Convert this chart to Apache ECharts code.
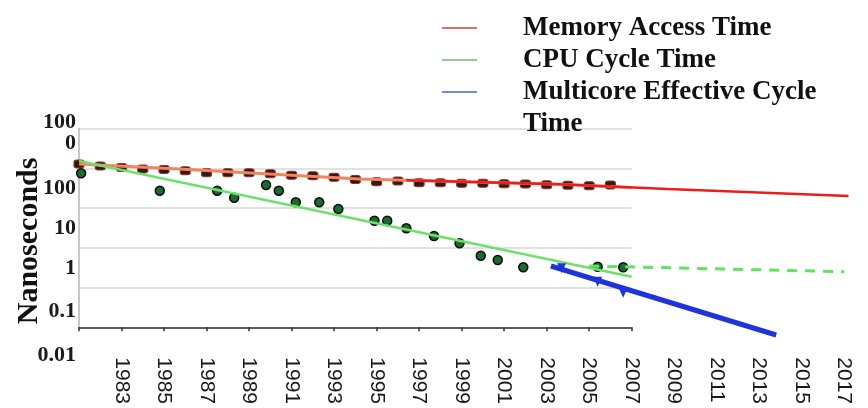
<!DOCTYPE html>
<html><head><meta charset="utf-8">
<script src="https://cdn.jsdelivr.net/npm/echarts@6/dist/echarts.min.js"></script>
<style>html,body{margin:0;padding:0;background:#fff}#c{width:868px;height:408px}</style>
</head><body><div id="c"></div>
<script>
// ---- data ----
const memYears = [1981,1982,1983,1984,1985,1986,1987,1988,1989,1990,1991,1992,1993,1994,1995,1996,1997,1998,1999,2000,2001,2002,2003,2004,2005,2006];
const memValues = [128,114,104.5,95.8,93.1,86.9,77.3,77.3,77.3,73,66.5,65,59.3,52.1,45.9,47.8,43.3,43.3,41.9,41.9,40.9,40.2,38.6,37.3,36.4,37.9];
const cpuYears = [1981.1,1984.8,1987.5,1988.3,1989.8,1990.4,1991.2,1992.3,1993.2,1994.9,1995.5,1996.4,1997.7,1998.9,1999.9,2000.7,2001.9,2005.4,2006.6];
const cpuValues = [74.7,27.3,27.3,18.2,37.9,27.3,13.9,13.9,9.45,4.8,4.8,3.09,1.98,1.3,0.632,0.493,0.323,0.334,0.323];
const multiYears = [2003.7,2005.4,2006.6];
const multiValues = [0.305,0.14,0.0742];
const memTrendYears = [1981,1985.7,1994.2,2003.6,2007];
const memTrendValues = [128,95.8,53.7,39.5,33];
const memProjYears = [1996.4,2003.6,2008.7,2017.2];
const memProjValues = [50.1,39.5,30.1,20];
const cpuTrendYears = [1981,2007];
const cpuTrendValues = [152,0.187];
const cpuProjYears = [2005,2017];
const cpuProjValues = [0.348,0.25];
const multiTrendYears = [2003.2,2013.8];
const multiTrendValues = [0.348,0.0064];
const yTickValues = [0.01,0.1,1,10,100,1000];
const yTickLabels = ['0.01','0.1','1','10','100','1000'];
const xLabelYears = [1983,1985,1987,1989,1991,1993,1995,1997,1999,2001,2003,2005,2007,2009,2011,2013,2015,2017];

const zip = (xs, ys) => xs.map((x, i) => [x, ys[i]]);
const serif = 'Liberation Serif';
const yLabelOffsetStyle = {'0.01':'p56','0.1':'p48','1':'p42','10':'p40','100':'p40'};

const chart = echarts.init(document.getElementById('c'));
const lblBase = {fontFamily: serif, fontWeight: 'bold', fontSize: 22, color: '#1a1a1a'};
const legendText = {fontFamily: serif, fontWeight: 'bold', fontSize: 27, color: '#111', lineHeight: 32, padding: [0, 0, 0, 41]};
const legendItem = (name, color) => ({name: name, itemStyle: {color: color, borderColor: color, borderWidth: 0, opacity: 1}});
chart.setOption({
  animation: false,
  backgroundColor: '#fff',
  legend: [
    {
      data: [legendItem('Memory Access Time', '#e03a3a'), legendItem('CPU Cycle Time', '#6cbf6c')],
      orient: 'vertical', left: 442, top: 12, padding: 0, itemGap: 0,
      icon: 'rect', itemWidth: 35, itemHeight: 1.5, selectedMode: false,
      textStyle: legendText
    },
    {
      data: [legendItem('Multicore Effective Cycle Time', '#4a64c8')],
      formatter: () => '\nMulticore Effective Cycle\nTime',
      orient: 'vertical', left: 442, top: 44, padding: 0,
      icon: 'rect', itemWidth: 35, itemHeight: 1.5, selectedMode: false,
      textStyle: legendText
    }
  ],
  grid: [
    {left: 79, right: 236.5, top: 128.5, bottom: 80.7, outerBoundsMode: 'none', containLabel: false},
    {left: 79, right: 2.5, top: 128.5, bottom: 80.7, outerBoundsMode: 'none', containLabel: false}
  ],
  xAxis: [
    {
      gridIndex: 0, type: 'value', min: 1981, max: 2007, interval: 2,
      axisLine: {show: true, onZero: false, lineStyle: {color: '#333', width: 1.5}},
      axisTick: {show: true, length: 4, lineStyle: {color: '#333', width: 1.5}},
      axisLabel: {show: false}, splitLine: {show: false}
    },
    {
      gridIndex: 1, type: 'value', min: 1981, max: 2018, interval: 2,
      axisLine: {show: false}, axisTick: {show: false}, splitLine: {show: false},
      axisLabel: {
        rotate: -90, margin: 30, fontFamily: 'Liberation Sans', fontSize: 21, color: '#1a1a1a',
        formatter: v => xLabelYears.indexOf(v) >= 0 ? String(v) : ''
      }
    }
  ],
  yAxis: [
    {
      gridIndex: 0, type: 'log', logBase: 10, min: 0.01, max: 1000,
      name: 'Nanoseconds', nameLocation: 'middle', nameGap: 35, nameRotate: 90, nameMoveOverlap: false,
      nameTextStyle: {fontFamily: serif, fontWeight: 'bold', fontSize: 30, color: '#111', padding: [0, 26, 0, 0]},
      axisLine: {show: true, lineStyle: {color: '#b5b5b5', width: 1.5}},
      axisTick: {show: false},
      splitLine: {show: true, lineStyle: {color: '#d8d8d8', width: 1.5}},
      axisLabel: {
        margin: 3, ...lblBase,
        formatter: v => {
          const i = Math.round(Math.log10(v)) + 2;
          const t = yTickLabels[i];
          if (t === '1000') return '{q|100}\n{t|0}';
          return '{' + yLabelOffsetStyle[t] + '|' + t + '}';
        },
        rich: {
          t: {...lblBase, lineHeight: 25, padding: [5, 0, 0, 0]},
          q: {...lblBase, lineHeight: 25, padding: [12, 0, 0, 0]},
          p56: {...lblBase, padding: [56, 0, 0, 0]},
          p48: {...lblBase, padding: [48, 0, 0, 0]},
          p42: {...lblBase, padding: [42, 0, 0, 0]},
          p40: {...lblBase, padding: [40, 0, 0, 0]}
        }
      }
    },
    {
      gridIndex: 1, type: 'log', logBase: 10, min: 0.01, max: 1000,
      axisLine: {show: false}, axisTick: {show: false}, axisLabel: {show: false}, splitLine: {show: false}
    }
  ],
  series: [
    {name: 'Memory Access Time', type: 'scatter', xAxisIndex: 1, yAxisIndex: 1, data: zip(memYears, memValues),
      symbol: 'roundRect', symbolSize: [10, 8], itemStyle: {color: '#2e1a18', borderColor: '#9a3020', borderWidth: 1, opacity: 1}, z: 2},
    {name: 'CPU Cycle Time', type: 'scatter', xAxisIndex: 1, yAxisIndex: 1, data: zip(cpuYears, cpuValues),
      symbol: 'circle', symbolSize: 9, itemStyle: {color: '#1d6a2e', borderColor: '#0d0d0d', borderWidth: 1.5, opacity: 1}, z: 2},
    {name: 'Memory Access Time', type: 'line', xAxisIndex: 1, yAxisIndex: 1, data: zip(memTrendYears, memTrendValues),
      showSymbol: false, lineStyle: {color: '#f3845e', width: 3}, z: 3},
    {name: 'Memory Access Time', type: 'line', xAxisIndex: 1, yAxisIndex: 1, data: zip(memProjYears, memProjValues),
      showSymbol: false, lineStyle: {color: '#ec1c1c', width: 2.5}, z: 4},
    {name: 'CPU Cycle Time', type: 'line', xAxisIndex: 1, yAxisIndex: 1, data: zip(cpuTrendYears, cpuTrendValues),
      showSymbol: false, lineStyle: {color: '#6ee06e', width: 2.5}, z: 3},
    {name: 'CPU Cycle Time', type: 'line', xAxisIndex: 1, yAxisIndex: 1, data: zip(cpuProjYears, cpuProjValues),
      showSymbol: false, lineStyle: {color: '#5ee45e', width: 3, type: [10, 8]}, z: 3},
    {name: 'Multicore Effective Cycle Time', type: 'line', xAxisIndex: 1, yAxisIndex: 1, data: zip(multiTrendYears, multiTrendValues),
      showSymbol: false, clip: false, lineStyle: {color: '#1f33dc', width: 5}, z: 4},
    {name: 'Multicore Effective Cycle Time', type: 'scatter', xAxisIndex: 1, yAxisIndex: 1, data: zip(multiYears, multiValues),
      symbol: 'triangle', symbolRotate: 180, symbolSize: [9, 10], itemStyle: {color: '#1f33dc', opacity: 1}, z: 5}
  ]
});
</script></body></html>
